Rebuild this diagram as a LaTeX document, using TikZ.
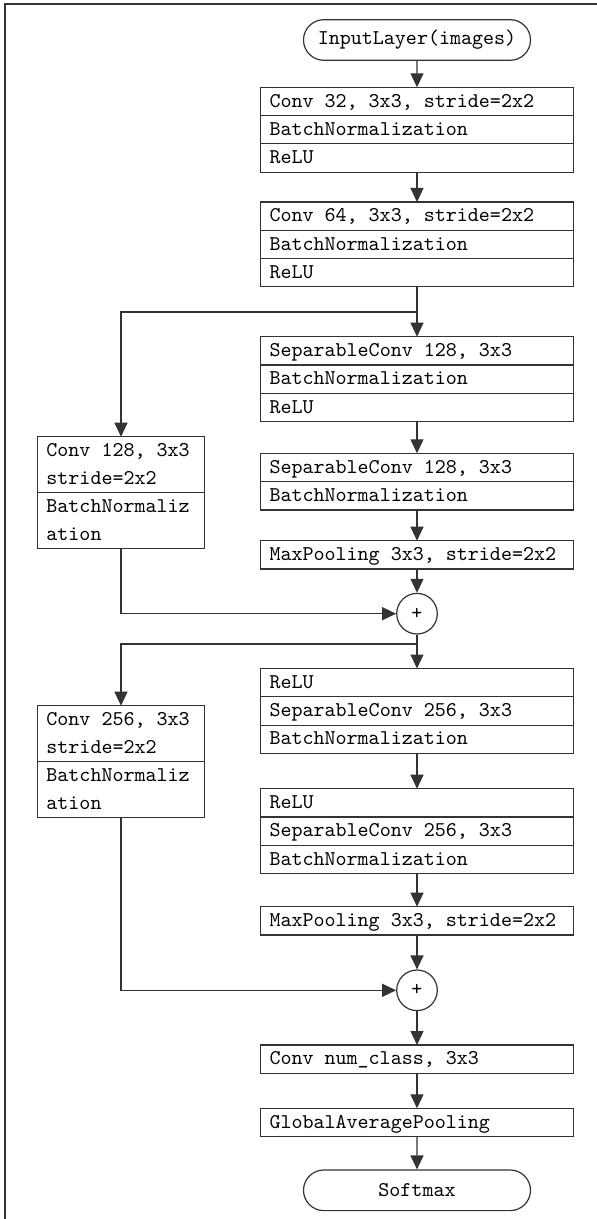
\documentclass[tikz,border=0pt]{standalone}
\usepackage{fontspec}
\usepackage{tikz}
\usetikzlibrary{arrows.meta, positioning, shapes.misc}
\definecolor{trait}{gray}{0.2}
\newcommand{\espacesfixes}{\spaceskip=5.51pt\relax\xspaceskip=5.51pt\relax}

\begin{document}
\begin{tikzpicture}[x=0.5pt, y=-0.5pt,
	texte/.style={font=\fontsize{10.5}{14}\selectfont\ttfamily},
	couche/.style={texte, draw=trait, line width=0.6pt, outer sep=0pt, anchor=north,
		text width=147.5pt, inner xsep=4.5pt, inner ysep=0pt, align=left,
		minimum height=14.15pt, execute at begin node={\espacesfixes\strut}, execute at end node=\strut},
	branche/.style={couche, text width=74.6pt},
	terminal/.style={texte, draw=trait, line width=0.6pt, rounded rectangle,
		minimum width=113.5pt, minimum height=20.3pt, inner sep=0pt},
	somme/.style={texte, draw=trait, line width=0.6pt, circle, minimum size=20.3pt, inner sep=0pt},
	fleche/.style={draw=trait, line width=0.6pt, -{Triangle[length=7pt, width=6.5pt]}}]
	\useasboundingbox (0,0) rectangle (597,1219);
	% cadre
	\draw[trait, line width=0.8pt] (597,4) -- (5,4) -- (5,1219);
	% tronc principal
	\node[terminal] (entree) at (417,40) {InputLayer(images)};
	\node[couche] (c1a) at (417,87.3) {Conv 32, 3x3, stride=2x2};
	\node[couche, below=0pt of c1a] (c1b) {BatchNormalization};
	\node[couche, below=0pt of c1b] (c1c) {ReLU};
	\node[couche] (c2a) at (417,202) {Conv 64, 3x3, stride=2x2};
	\node[couche, below=0pt of c2a] (c2b) {BatchNormalization};
	\node[couche, below=0pt of c2b] (c2c) {ReLU};
	\coordinate (j1) at (417,312);
	\node[couche] (s1a) at (417,336.7) {SeparableConv 128, 3x3};
	\node[couche, below=0pt of s1a] (s1b) {BatchNormalization};
	\node[couche, below=0pt of s1b] (s1c) {ReLU};
	\node[couche] (s2a) at (417,453.3) {SeparableConv 128, 3x3};
	\node[couche, below=0pt of s2a] (s2b) {BatchNormalization};
	\node[couche] (p1) at (417,540.7) {MaxPooling 3x3, stride=2x2};
	\node[somme] (add1) at (417,613.7) {+};
	\coordinate (j2) at (417,644);
	\node[couche] (s3a) at (417,668.5) {ReLU};
	\node[couche, below=0pt of s3a] (s3b) {SeparableConv 256, 3x3};
	\node[couche, below=0pt of s3b] (s3c) {BatchNormalization};
	\node[couche] (s4a) at (417,788.7) {ReLU};
	\node[couche, below=0pt of s4a] (s4b) {SeparableConv 256, 3x3};
	\node[couche, below=0pt of s4b] (s4c) {BatchNormalization};
	\node[couche] (p2) at (417,906.7) {MaxPooling 3x3, stride=2x2};
	\node[somme] (add2) at (417,990.3) {+};
	\node[couche] (cc) at (417,1045) {Conv num\_class, 3x3};
	\node[couche] (gap) at (417,1108.3) {GlobalAveragePooling};
	\node[terminal] (sortie) at (417,1190.3) {Softmax};
	% raccourcis
	\node[branche] (g1a) at (121,436.7) {Conv 128, 3x3\\stride=2x2};
	\node[branche, below=0pt of g1a] (g1b) {BatchNormaliz\\ation};
	\node[branche] (g2a) at (121,705.7) {Conv 256, 3x3\\stride=2x2};
	\node[branche, below=0pt of g2a] (g2b) {BatchNormaliz\\ation};
	% liaisons
	\draw[fleche] (entree) -- (c1a);
	\draw[fleche] (c1c) -- (c2a);
	\draw[fleche] (c2c) -- (s1a);
	\draw[fleche] (s1c) -- (s2a);
	\draw[fleche] (s2b) -- (p1);
	\draw[fleche] (p1) -- (add1);
	\draw[fleche] (j1) -| (g1a);
	\draw[fleche] (g1b) |- (add1);
	\draw[fleche] (add1) -- (s3a);
	\draw[fleche] (s3c) -- (s4a);
	\draw[fleche] (s4c) -- (p2);
	\draw[fleche] (p2) -- (add2);
	\draw[fleche] (j2) -| (g2a);
	\draw[fleche] (g2b) |- (add2);
	\draw[fleche] (add2) -- (cc);
	\draw[fleche] (cc) -- (gap);
	\draw[fleche] (gap) -- (sortie);
\end{tikzpicture}
\end{document}
